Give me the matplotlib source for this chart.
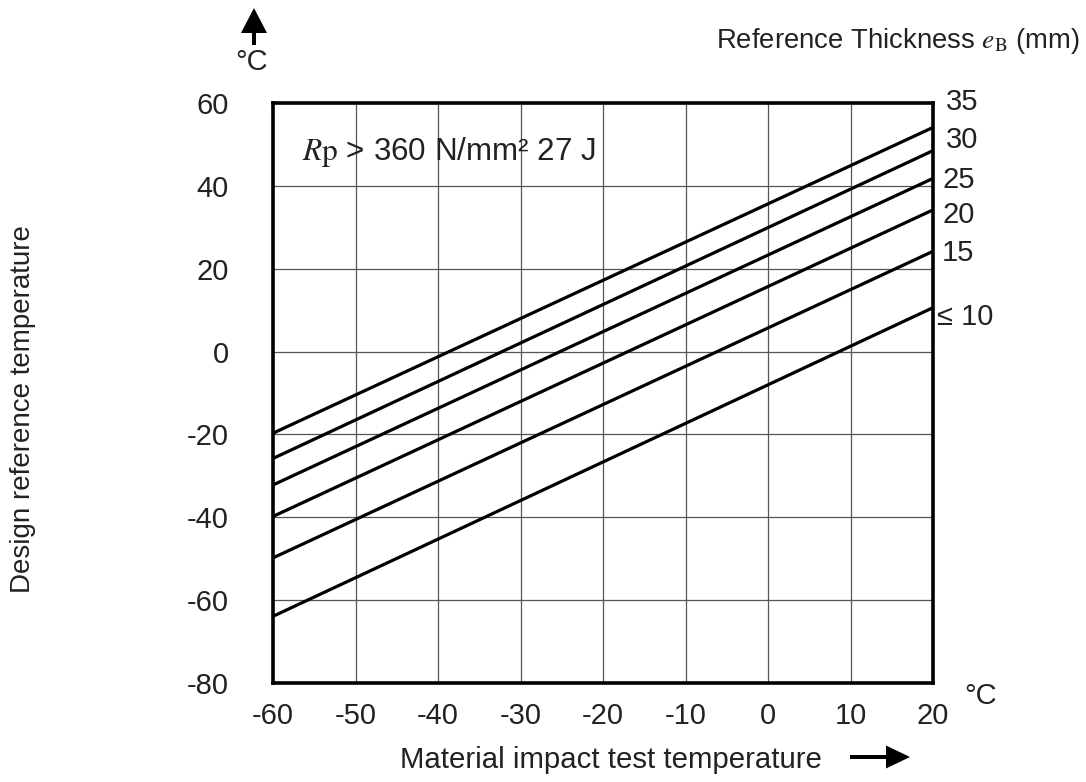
import matplotlib
matplotlib.use("Agg")
import matplotlib.pyplot as plt
from matplotlib.patches import Polygon

plt.rcParams['font.family'] = ['Liberation Sans', 'DejaVu Sans']
plt.rcParams['mathtext.fontset'] = 'stix'

# Data
impact_temp = [-60, 20]
thickness_labels = ["35", "30", "25", "20", "15", "≤ 10"]
design_temp_lines = {
    "35": [-19.7, 54.1],
    "30": [-25.8, 48.5],
    "25": [-32.2, 41.8],
    "20": [-39.8, 34.2],
    "15": [-49.8, 24.2],
    "≤ 10": [-63.9, 10.6],
}
label_y = [60.3, 51.1, 41.5, 33.0, 23.9, 8.4]
label_dx = [13, 13, 9, 9, 9, 4]
x_ticks = [-60, -50, -40, -30, -20, -10, 0, 10, 20]
y_ticks = [-80, -60, -40, -20, 0, 20, 40, 60]

W, H = 1086, 782
TXT = '#222222'
FS = 21
fig = plt.figure(figsize=(W / 100, H / 100), dpi=100)
ax = fig.add_axes([273 / W, 1 - 683 / H, (933 - 273) / W, (683 - 103) / H])
ax.set_xlim(-60, 20)
ax.set_ylim(-80, 60)
ax.set_xticks(x_ticks)
ax.set_yticks(y_ticks)
ax.set_xticklabels([str(v) for v in x_ticks])
ax.set_yticklabels([str(v) for v in y_ticks])
ax.tick_params(axis='both', length=0, labelsize=FS, colors=TXT)
ax.tick_params(axis='x', pad=13.5)
ax.tick_params(axis='y', pad=32)
ax.grid(True, color='#555555', linewidth=0.9)
ax.set_axisbelow(True)
for s in ax.spines.values():
    s.set_linewidth(2.6)
    s.set_color('black')

for lab in thickness_labels:
    ax.plot(impact_temp, design_temp_lines[lab], color='black', linewidth=2.3,
            solid_capstyle='butt', clip_on=False)

for lab, yv, dx in zip(thickness_labels, label_y, label_dx):
    ax.annotate(lab, xy=(20, yv), xytext=(dx, 0), textcoords='offset pixels',
                ha='left', va='center', fontsize=FS, color=TXT,
                annotation_clip=False)

ax.text(-56.5, 48.2, r"$\mathit{R}\mathrm{p}$ > 360 N/mm² 27 J", fontsize=22.6,
        ha='left', va='center', color=TXT)

# Figure-level texts (positions given in reference pixels)
def fx(px):
    return px / W

def fy(py):
    return 1 - py / H

fig.text(fx(1080), fy(41), r"Reference Thickness $\mathit{e}_\mathrm{B}$ (mm)",
         ha='right', va='center', fontsize=19.8, color=TXT)
fig.text(fx(252), fy(62), "°C", ha='center', va='center', fontsize=FS, color=TXT)
fig.text(fx(981), fy(696), "°C", ha='center', va='center', fontsize=FS, color=TXT)
fig.text(fx(23), fy(409), "Design reference temperature", rotation=90,
         ha='center', va='center', fontsize=20, color=TXT)
fig.text(fx(611), fy(760), "Material impact test temperature",
         ha='center', va='center', fontsize=21.2, color=TXT)

# Arrows drawn as polygons in inches (top-left pixel coords converted)
def pts(coords):
    return [(x / 100, (H - y) / 100) for x, y in coords]

up_arrow = [(252, 45), (256, 45), (256, 33), (267, 33), (254, 8), (241, 33), (252, 33)]
right_arrow = [(850, 755), (886, 755), (886, 745.5), (910, 757), (886, 768.5),
               (886, 759), (850, 759)]
for poly in (up_arrow, right_arrow):
    fig.patches.append(Polygon(pts(poly), closed=True, facecolor='black',
                               edgecolor='none', transform=fig.dpi_scale_trans,
                               figure=fig))

fig.savefig("out.png", dpi=100)
